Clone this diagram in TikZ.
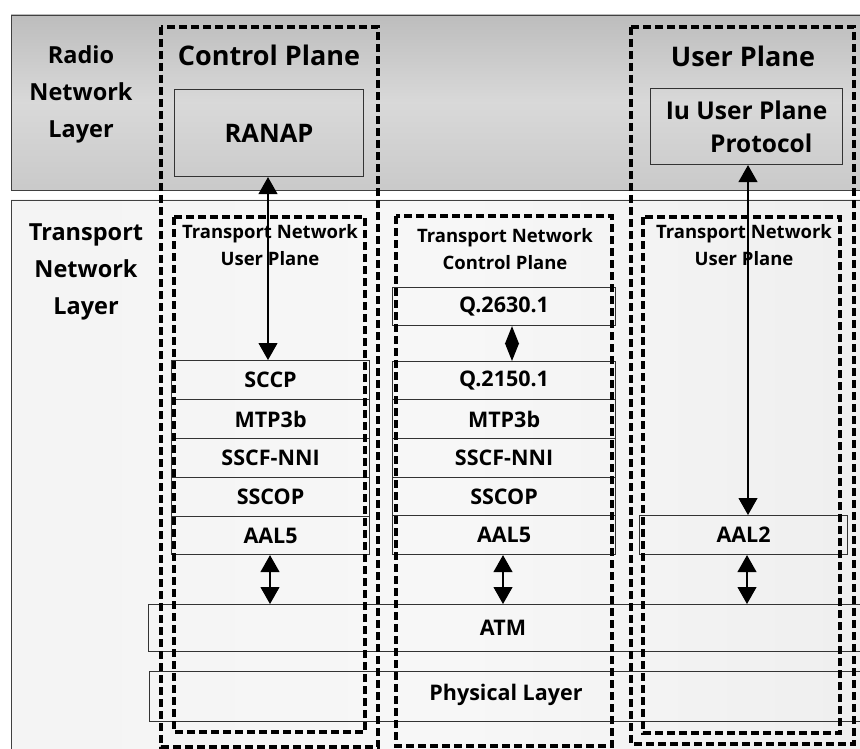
\documentclass[tikz,border=0pt]{standalone}
\usepackage{fontspec}
\setmainfont{Open Sans}
\usetikzlibrary{arrows.meta,calc}
\tikzset{
  band/.style={draw=black!75, line width=1.3pt, anchor=north west, inner sep=0pt},
  layerbox/.style={draw=black!80, line width=1.1pt, anchor=north west, inner sep=0pt, font=\bfseries\fontsize{21.5}{22}\selectfont},
  planebox/.style={draw=black, line width=3.2pt, dash pattern=on 8pt off 4pt},
  sidetxt/.style={font=\bfseries\fontsize{23.5}{37}\selectfont, align=center, inner sep=0pt},
  titletxt/.style={font=\bfseries\fontsize{27}{30}\selectfont, inner sep=0pt},
  smalltxt/.style={font=\bfseries\fontsize{18.5}{27}\selectfont, align=center, inner sep=0pt},
  midtxt/.style={font=\bfseries\fontsize{21.5}{22}\selectfont, inner sep=0pt},
  link/.style={line width=1.1pt, {Triangle[width=19pt,length=17pt]}-{Triangle[width=19pt,length=17pt]}},
  slink/.style={line width=1.1pt, {Triangle[width=14pt,length=18pt]}-{Triangle[width=14pt,length=18pt]}},
}
\begin{document}
\begin{tikzpicture}[x=1pt,y=-1pt]
\useasboundingbox (0,0) rectangle (860,749);
\fill[white] (0,0) rectangle (860,749);
\begin{scope}
\clip (0,0) rectangle (860,749);
% bands
\shade[top color=gray!52, bottom color=gray!42, middle color=gray!30] (11,15) rectangle (875,190);
\node[band, minimum width=864pt, minimum height=175pt] (radio) at (11,15) {};
\shade[left color=gray!9, right color=gray!13, middle color=gray!6] (11,200) rectangle (875,760);
\node[band, minimum width=864pt, minimum height=560pt] (transport) at (11,200) {};
% left stack
\node[layerbox, minimum width=198pt, minimum height=39pt] (sccp) at (171,360) {SCCP};
\node[layerbox, minimum width=198pt, minimum height=39pt] (mtpl) at (171,399) {MTP3b};
\node[layerbox, minimum width=198pt, minimum height=39pt] (sscfl) at (171,438) {SSCF-NNI};
\node[layerbox, minimum width=198pt, minimum height=39pt] (sscopl) at (171,477) {SSCOP};
\node[layerbox, minimum width=198pt, minimum height=38pt] (aal5l) at (171,516) {AAL5};
% middle stack
\node[layerbox, minimum width=223pt, minimum height=38pt] (q26) at (392,287) {Q.2630.1};
\node[layerbox, minimum width=223pt, minimum height=38pt] (q21) at (392,361) {Q.2150.1};
\node[layerbox, minimum width=223pt, minimum height=39pt] (mtpm) at (392,399) {MTP3b};
\node[layerbox, minimum width=223pt, minimum height=39pt] (sscfm) at (392,438) {SSCF-NNI};
\node[layerbox, minimum width=223pt, minimum height=38pt] (sscopm) at (392,477) {SSCOP};
\node[layerbox, minimum width=223pt, minimum height=39pt] (aal5m) at (392,515) {AAL5};
% right
\node[layerbox, minimum width=208pt, minimum height=39pt] (aal2) at (639,515) {AAL2};
% common
\node[layerbox, minimum width=730pt, minimum height=47pt] (atm) at (148,604) {};
\node[layerbox, minimum width=730pt, minimum height=50pt] (phy) at (149,671) {};
\node[midtxt] (atmtxt) at (503,628) {ATM};
\node[midtxt] (phytxt) at (506,695) {Physical Layer};
% radio network boxes
\node[draw=black!80, line width=1.1pt, anchor=north west, minimum width=189pt, minimum height=87pt, font=\bfseries\fontsize{25.5}{33}\selectfont] (ranap) at (174,89) {RANAP};
\node[draw=black!80, line width=1.1pt, anchor=north west, minimum width=192pt, minimum height=76pt, align=center, inner sep=0pt, font=\bfseries\fontsize{24.5}{33}\selectfont] (iu) at (650,88) {Iu User Plane\\\hspace*{1.2em}Protocol};
% plane boxes
\draw[planebox] (161,27) rectangle (378,747);
\draw[planebox] (631,27) rectangle (854,744);
\draw[planebox] (174,217) rectangle (365,732);
\draw[planebox] (396,216) rectangle (612,746);
\draw[planebox] (643,217) rectangle (840,733);
% labels
\node[sidetxt] (rnl) at (81,94) {Radio\\Network\\Layer};
\node[sidetxt] (tnl) at (86,272) {Transport\\Network\\Layer};
\node[titletxt] (cp) at (269,55) {Control Plane};
\node[titletxt] (up) at (743,56) {User Plane};
\node[smalltxt] (tnupl) at (270,245) {Transport Network\\User Plane};
\node[smalltxt] (tncp) at (505,249) {Transport Network\\Control Plane};
\node[smalltxt] (tnupr) at (744,245) {Transport Network\\User Plane};
% arrows
\draw[link] (ranap.south -| 268,0) -- (sccp.north -| 268,0);
\draw[link] (iu.south -| 748,0) -- (aal2.north -| 748,0);
\draw[slink] (q26.south -| 512,0) -- (q21.north -| 512,0);
\draw[link] (aal5l.south -| 270,0) -- (atm.north -| 270,0);
\draw[link] (aal5m.south -| 503,0) -- (atm.north -| 503,0);
\draw[link] (aal2.south -| 747,0) -- (atm.north -| 747,0);
\end{scope}
\end{tikzpicture}
\end{document}
